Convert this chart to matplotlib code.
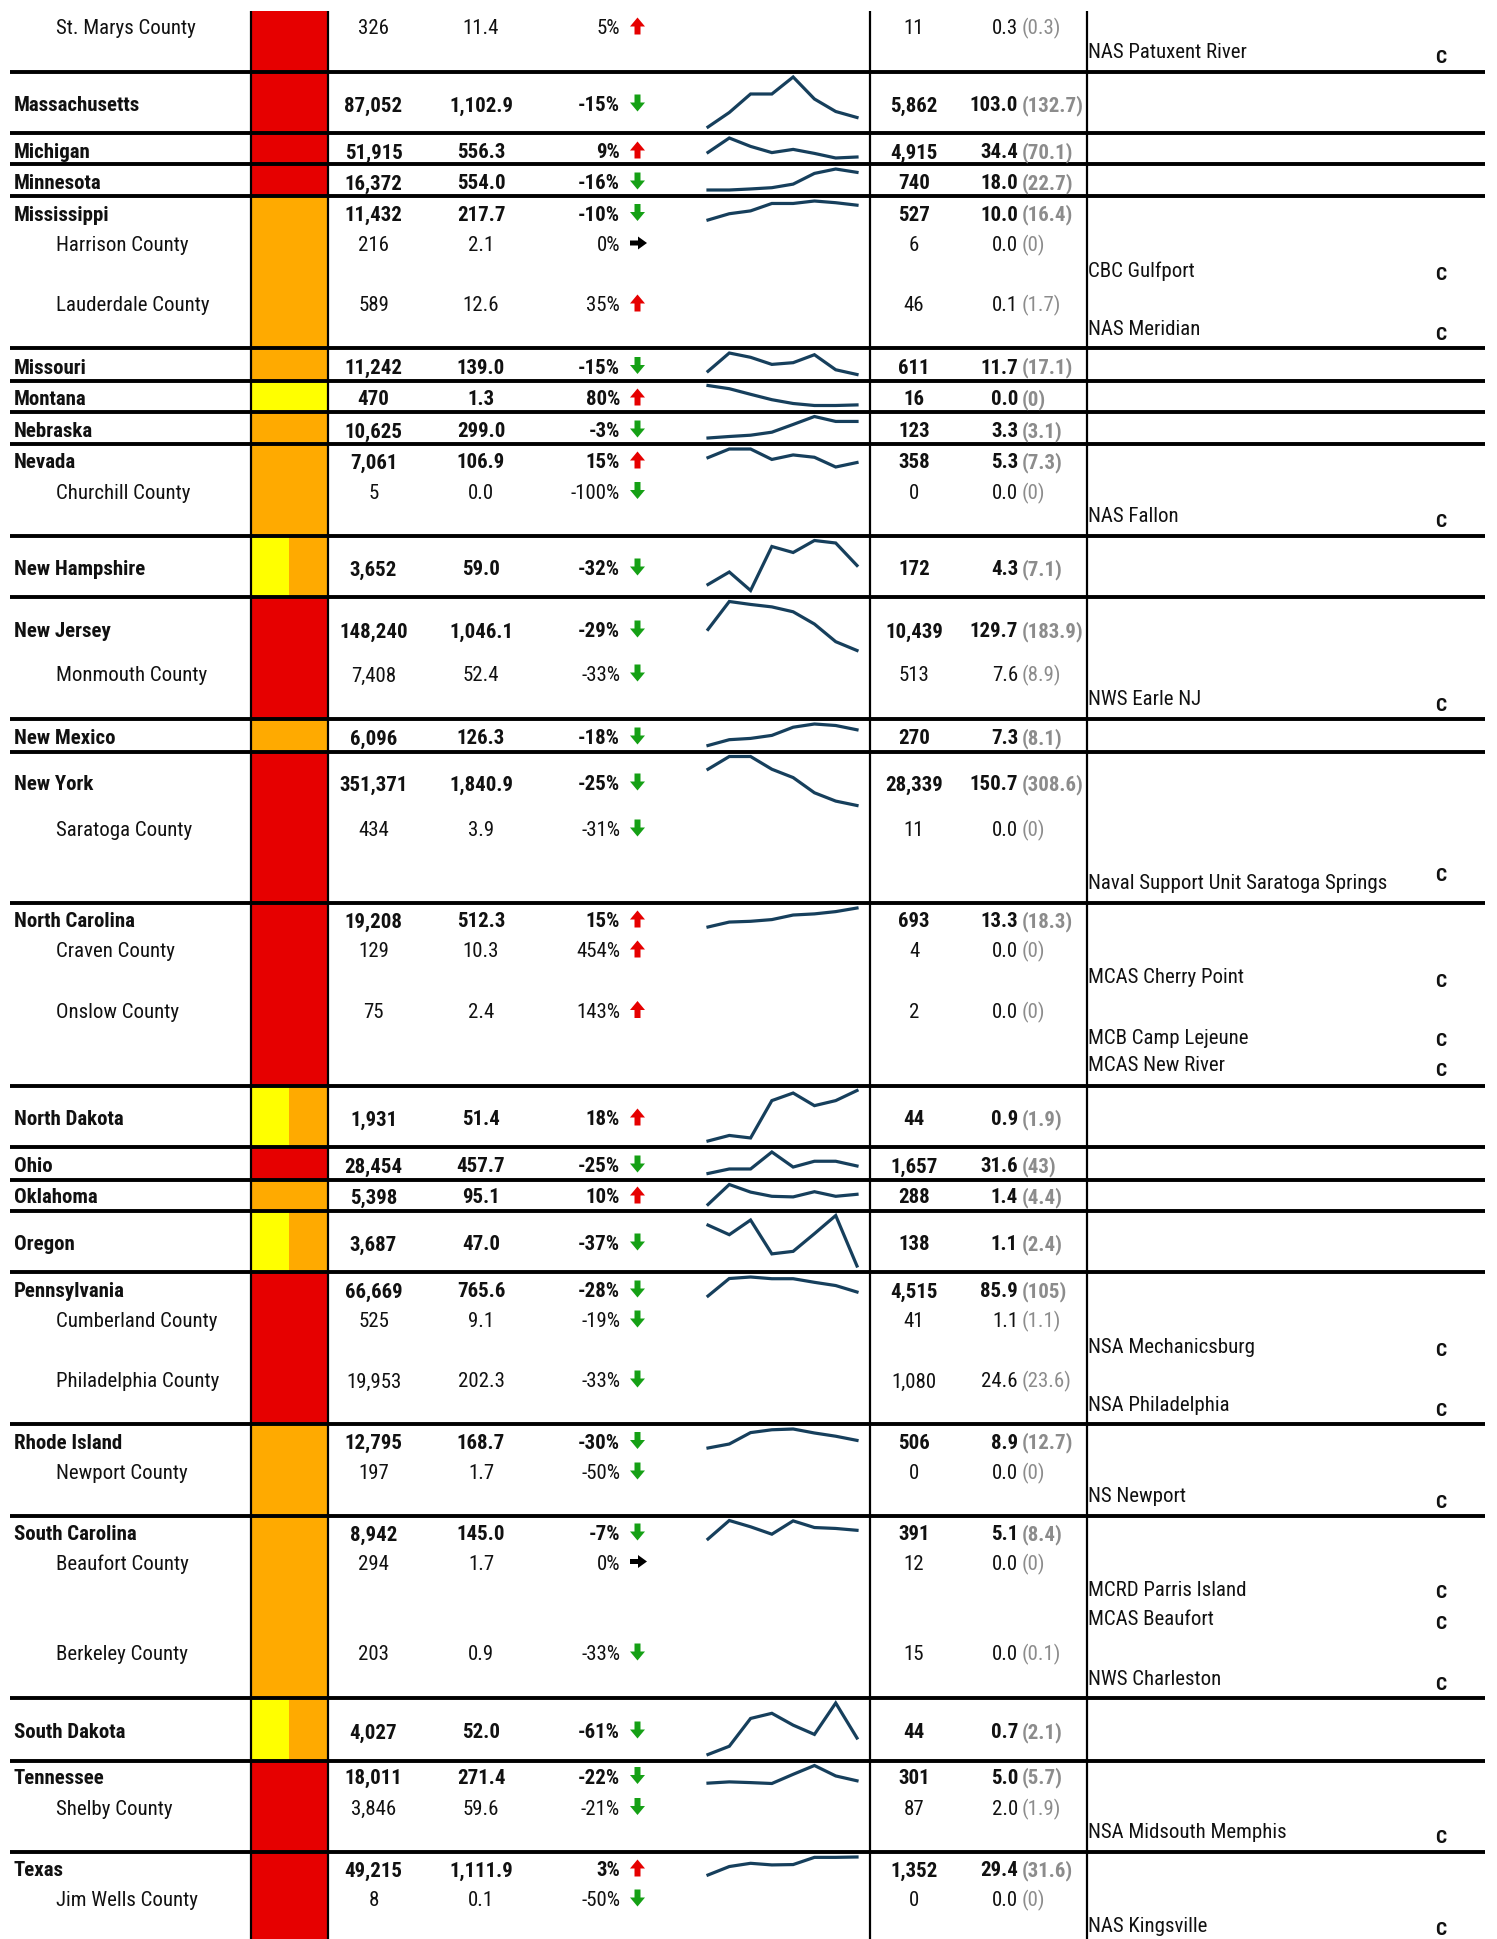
import numpy as np
import matplotlib.pyplot as plt
import matplotlib.patches as mpatches
from matplotlib import font_manager

# ---- table rows (states bold, counties indented) ----
row_names = ["St. Marys County", "Massachusetts", "Michigan", "Minnesota", "Mississippi",
             "Harrison County", "Lauderdale County", "Missouri", "Montana", "Nebraska",
             "Nevada", "Churchill County", "New Hampshire", "New Jersey", "Monmouth County",
             "New Mexico", "New York", "Saratoga County", "North Carolina", "Craven County",
             "Onslow County", "North Dakota", "Ohio", "Oklahoma", "Oregon", "Pennsylvania",
             "Cumberland County", "Philadelphia County", "Rhode Island", "Newport County",
             "South Carolina", "Beaufort County", "Berkeley County", "South Dakota",
             "Tennessee", "Shelby County", "Texas", "Jim Wells County"]
row_count = [326, 87052, 51915, 16372, 11432, 216, 589, 11242, 470, 10625, 7061, 5, 3652,
             148240, 7408, 6096, 351371, 434, 19208, 129, 75, 1931, 28454, 5398, 3687, 66669,
             525, 19953, 12795, 197, 8942, 294, 203, 4027, 18011, 3846, 49215, 8]
row_rate = [11.4, 1102.9, 556.3, 554.0, 217.7, 2.1, 12.6, 139.0, 1.3, 299.0, 106.9, 0.0, 59.0,
            1046.1, 52.4, 126.3, 1840.9, 3.9, 512.3, 10.3, 2.4, 51.4, 457.7, 95.1, 47.0, 765.6,
            9.1, 202.3, 168.7, 1.7, 145.0, 1.7, 0.9, 52.0, 271.4, 59.6, 1111.9, 0.1]
row_pct = [5, -15, 9, -16, -10, 0, 35, -15, 80, -3, 15, -100, -32, -29, -33, -18, -25, -31,
           15, 454, 143, 18, -25, 10, -37, -28, -19, -33, -30, -50, -7, 0, -33, -61, -22, -21,
           3, -50]
row_count2 = [11, 5862, 4915, 740, 527, 6, 46, 611, 16, 123, 358, 0, 172, 10439, 513, 270,
              28339, 11, 693, 4, 2, 44, 1657, 288, 138, 4515, 41, 1080, 506, 0, 391, 12, 15,
              44, 301, 87, 1352, 0]
row_rate2 = [0.3, 103.0, 34.4, 18.0, 10.0, 0.0, 0.1, 11.7, 0.0, 3.3, 5.3, 0.0, 4.3, 129.7,
             7.6, 7.3, 150.7, 0.0, 13.3, 0.0, 0.0, 0.9, 31.6, 1.4, 1.1, 85.9, 1.1, 24.6, 8.9,
             0.0, 5.1, 0.0, 0.0, 0.7, 5.0, 2.0, 29.4, 0.0]
row_prev2 = [0.3, 132.7, 70.1, 22.7, 16.4, 0, 1.7, 17.1, 0, 3.1, 7.3, 0, 7.1, 183.9, 8.9, 8.1,
             308.6, 0, 18.3, 0, 0, 1.9, 43, 4.4, 2.4, 105, 1.1, 23.6, 12.7, 0, 8.4, 0, 0.1,
             2.1, 5.7, 1.9, 31.6, 0]

# ---- installations ----
base_names = ["NAS Patuxent River", "CBC Gulfport", "NAS Meridian", "NAS Fallon",
              "NWS Earle NJ", "Naval Support Unit Saratoga Springs", "MCAS Cherry Point",
              "MCB Camp Lejeune", "MCAS New River", "NSA Mechanicsburg", "NSA Philadelphia",
              "NS Newport", "MCRD Parris Island", "MCAS Beaufort", "NWS Charleston",
              "NSA Midsouth Memphis", "NAS Kingsville"]
base_flag = ["C"] * len(base_names)

# ---- state blocks ----
block_states = ["Maryland", "Massachusetts", "Michigan", "Minnesota", "Mississippi", "Missouri",
                "Montana", "Nebraska", "Nevada", "New Hampshire", "New Jersey", "New Mexico",
                "New York", "North Carolina", "North Dakota", "Ohio", "Oklahoma", "Oregon",
                "Pennsylvania", "Rhode Island", "South Carolina", "South Dakota", "Tennessee",
                "Texas"]
block_level = ["high", "high", "high", "high", "medium", "medium", "low", "medium", "medium",
               "low/medium", "high", "medium", "high", "high", "low/medium", "high", "medium",
               "low/medium", "high", "medium", "medium", "low/medium", "high", "high"]

# sparkline trends (8 periods, relative)
spark = {
    "Massachusetts": [0, 29, 66, 66, 100, 56, 31, 19],
    "Michigan": [28, 100, 58, 27, 43, 23, 0, 5],
    "Minnesota": [0, 0, 5, 11, 28, 79, 100, 84],
    "Mississippi": [0, 33, 48, 87, 87, 100, 91, 78],
    "Missouri": [15, 100, 80, 47, 55, 92, 22, 0],
    "Montana": [100, 84, 56, 29, 10, 0, 0, 3],
    "Nebraska": [0, 7, 13, 27, 63, 100, 77, 77],
    "Nevada": [52, 100, 100, 42, 67, 54, 0, 25],
    "New Hampshire": [12, 37, 0, 88, 76, 100, 95, 50],
    "New Jersey": [43, 100, 94, 89, 79, 54, 18, 0],
    "New Mexico": [0, 27, 33, 47, 85, 100, 93, 73],
    "New York": [74, 100, 100, 74, 57, 26, 9, 0],
    "North Carolina": [0, 26, 30, 39, 63, 69, 81, 100],
    "North Dakota": [0, 11, 6, 80, 95, 70, 80, 100],
    "Ohio": [0, 21, 21, 100, 30, 57, 57, 35],
    "Oklahoma": [0, 100, 62, 41, 38, 64, 41, 51],
    "Oregon": [81, 62, 91, 24, 29, 64, 100, 0],
    "Pennsylvania": [0, 92, 100, 91, 91, 72, 55, 21],
    "Rhode Island": [0, 21, 81, 96, 100, 79, 62, 40],
    "South Carolina": [0, 100, 66, 26, 98, 62, 57, 47],
    "South Dakota": [0, 16, 70, 80, 57, 39, 100, 32],
    "Tennessee": [2, 9, 5, 0, 51, 100, 42, 15],
    "Texas": [0, 47, 65, 56, 58, 98, 98, 100],
}

# ---- layout (pixels) ----
W, H = 1497, 1940
row_y = [27, 104, 151, 182, 213.5, 244, 304, 366.5, 398, 430, 461, 491.5, 568, 630, 674, 737,
         783, 829, 920, 950, 1010.5, 1118, 1165, 1196, 1243, 1290, 1320, 1380, 1441.5, 1472,
         1533, 1562.5, 1653, 1731, 1776.5, 1807.5, 1869, 1899]
base_y = [51, 270, 327.5, 514.5, 698, 882, 976, 1037, 1064, 1346, 1403.5, 1495, 1588.5, 1618,
          1677.5, 1831, 1925]
flag_y = [57, 274, 334, 521, 705, 875, 981, 1040, 1070, 1350, 1410, 1502, 1592, 1623, 1684,
          1837, 1929]
block_edges = [12, 73, 134, 165, 197, 349, 381.5, 412.5, 445, 536.5, 597.5, 720, 752.5, 904,
               1086.5, 1148, 1180.5, 1211.5, 1273, 1425, 1516.5, 1699, 1761.5, 1853, 1940]
spark_h = [None, 61, 31, 32, 30, 32.5, 31, 32.5, 29, 61, 60, 32.5, 60, 30, 61.5, 32.5, 31,
           61.5, 30, 30, 29.5, 62.5, 29, 29]
level_colors = {"high": ["#e60000"], "medium": ["#ffaa00"], "low": ["#ffff00"],
                "low/medium": ["#ffff00", "#ffaa00"]}

names = {f.name for f in font_manager.fontManager.ttflist}
narrow = next((n for n in ["Liberation Sans Narrow", "Arial Narrow", "Roboto Condensed",
                           "Archivo Narrow", "Liberation Sans"] if n in names), "DejaVu Sans")
plt.rcParams["font.family"] = [narrow, "DejaVu Sans"]

fig = plt.figure(figsize=(W / 100, H / 100), dpi=100)
ax = fig.add_axes([0, 0, 1, 1])
ax.set_xlim(0, W)
ax.set_ylim(H, 0)
ax.axis("off")

FS = 15
TXT = "#111111"
GREY = "#8c8c8c"
BASE = 7.4  # centre -> baseline

# colour column
cx0, cx1 = 250.5, 327.5
for i, lvl in enumerate(block_level):
    cols = level_colors[lvl]
    w = (cx1 - cx0) / len(cols)
    for k, c in enumerate(cols):
        ax.add_patch(mpatches.Rectangle((cx0 + k * w, block_edges[i]), w,
                                        block_edges[i + 1] - block_edges[i],
                                        color=c, lw=0, zorder=1))

# grid lines
for y in block_edges[1:-1]:
    ax.plot([10, 1485], [y, y], color="black", lw=2.8, solid_capstyle="butt", zorder=3)
for x in [cx0, cx1, 869.5, 1086.5]:
    ax.plot([x, x], [12, H], color="black", lw=1.6, solid_capstyle="butt", zorder=3)

# rows
for i, name in enumerate(row_names):
    state = not name.endswith("County")
    fw = "bold" if state else "normal"
    yb = row_y[i] + BASE
    ax.text(14 if state else 56, yb, name, ha="left", va="baseline", fontsize=FS,
            fontweight=fw, color=TXT)
    ax.text(373.5, yb, f"{row_count[i]:,}", ha="center", va="baseline", fontsize=FS,
            fontweight=fw, color=TXT)
    ax.text(481, yb, f"{row_rate[i]:,.1f}", ha="center", va="baseline", fontsize=FS,
            fontweight=fw, color=TXT)
    ax.text(620, yb, f"{row_pct[i]}%", ha="right", va="baseline", fontsize=FS,
            fontweight=fw, color=TXT)
    ax.text(914, yb, f"{row_count2[i]:,}", ha="center", va="baseline", fontsize=FS,
            fontweight=fw, color=TXT)
    ax.text(1018, yb, f"{row_rate2[i]:.1f}", ha="right", va="baseline", fontsize=FS,
            fontweight=fw, color=TXT)
    ax.text(1022, yb, f"({row_prev2[i]:g})", ha="left", va="baseline", fontsize=FS,
            fontweight=fw, color=GREY)
    # trend arrow
    ay = row_y[i]
    p = row_pct[i]
    if p > 0:
        arr = mpatches.FancyArrow(637.5, ay + 8.5, 0, -17, width=6, head_width=15,
                                  head_length=9, length_includes_head=True,
                                  color="#e60000", lw=0, zorder=4)
    elif p < 0:
        arr = mpatches.FancyArrow(637.5, ay - 8.5, 0, 17, width=6, head_width=15,
                                  head_length=9, length_includes_head=True,
                                  color="#15a015", lw=0, zorder=4)
    else:
        arr = mpatches.FancyArrow(630, ay, 17, 0, width=5, head_width=13,
                                  head_length=9, length_includes_head=True,
                                  color="black", lw=0, zorder=4)
    ax.add_patch(arr)

# installations
for i, b in enumerate(base_names):
    ax.text(1088, base_y[i] + BASE, b, ha="left", va="baseline", fontsize=FS, color=TXT)
    ax.text(1441, flag_y[i] + 6, base_flag[i], ha="center", va="baseline", fontsize=14,
            fontweight="bold", color=TXT)

# sparklines
sx0, sx1 = 708, 857
for i, st in enumerate(block_states):
    if st not in spark:
        continue
    top = block_edges[i] + 5
    bot = block_edges[i] + spark_h[i] - 6
    sax = fig.add_axes([sx0 / W, 1 - bot / H, (sx1 - sx0) / W, (bot - top) / H])
    vals = spark[st]
    sax.plot(range(len(vals)), vals, color="#163f5c", lw=2.3, clip_on=False,
             solid_joinstyle="miter")
    sax.set_xlim(0, len(vals) - 1)
    sax.set_ylim(min(vals), max(vals))
    sax.axis("off")

fig.savefig("out.png", dpi=100)
